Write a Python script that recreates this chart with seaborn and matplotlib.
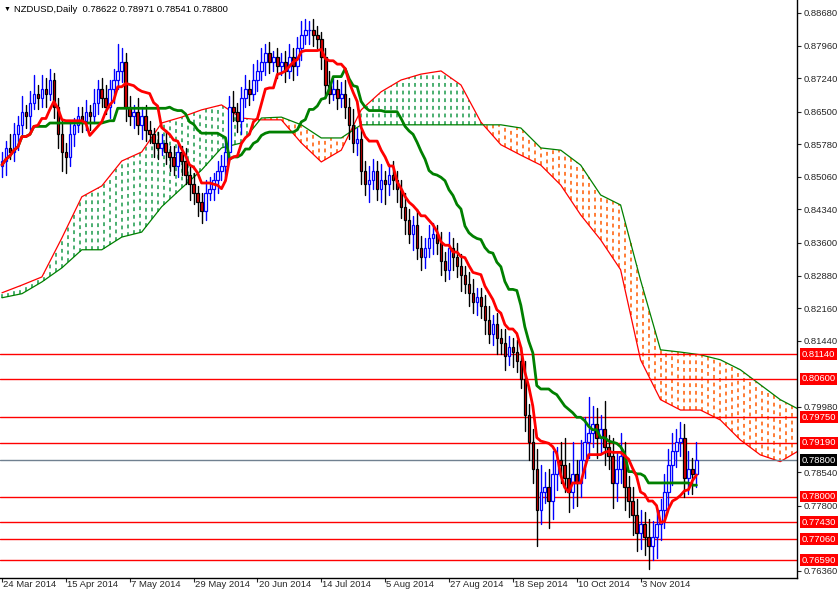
import numpy as np
import pandas as pd
import matplotlib
matplotlib.use("Agg")
import matplotlib.pyplot as plt
import matplotlib.transforms as mtransforms
import seaborn as sns

# ---------------- data ----------------
closes = [
0.8540,0.8570,0.8560,0.8600,0.8620,0.8650,0.8640,0.8670,0.8690,0.8680,
0.8700,0.8690,0.8720,0.8660,0.8600,0.8560,0.8550,0.8600,0.8620,0.8640,
0.8630,0.8650,0.8640,0.8670,0.8700,0.8680,0.8660,0.8700,0.8720,0.8740,
0.8760,0.8660,0.8640,0.8650,0.8620,0.8640,0.8610,0.8600,0.8580,0.8570,
0.8580,0.8560,0.8550,0.8530,0.8560,0.8540,0.8510,0.8490,0.8470,0.8450,
0.8430,0.8470,0.8480,0.8500,0.8520,0.8530,0.8560,0.8660,0.8650,0.8630,
0.8680,0.8700,0.8690,0.8720,0.8740,0.8760,0.8780,0.8760,0.8770,0.8750,
0.8760,0.8740,0.8770,0.8750,0.8790,0.8820,0.8830,0.8830,0.8820,0.8810,
0.8770,0.8710,0.8690,0.8700,0.8680,0.8690,0.8660,0.8620,0.8580,0.8590,
0.8520,0.8490,0.8500,0.8520,0.8480,0.8500,0.8490,0.8510,0.8500,0.8480,
0.8440,0.8410,0.8380,0.8400,0.8350,0.8330,0.8350,0.8370,0.8380,0.8360,
0.8320,0.8300,0.8350,0.8330,0.8310,0.8290,0.8270,0.8250,0.8230,0.8240,
0.8220,0.8190,0.8160,0.8180,0.8150,0.8140,0.8110,0.8130,0.8120,0.8100,
0.8060,0.7980,0.7920,0.7860,0.7770,0.7810,0.7820,0.7790,0.7850,0.7880,
0.7870,0.7840,0.7810,0.7850,0.7830,0.7880,0.7920,0.7940,0.7960,0.7930,
0.7950,0.7910,0.7890,0.7830,0.7860,0.7890,0.7820,0.7790,0.7760,0.7720,
0.7740,0.7710,0.7690,0.7710,0.7740,0.7770,0.7810,0.7870,0.7900,0.7920,
0.7930,0.7840,0.7860,0.7850,0.7880]
first_open = 0.8530
upper_pips = [
20,15,30,25,20,35,15,25,40,20, 30,25,25,15,20,30,20,25,15,20,
20,25,15,30,20,25,30,20,25,60, 30,20,25,15,30,20,25,20,15,25,
20,30,15,25,20,15,30,20,25,15, 20,30,25,15,20,25,30,25,35,20,
25,30,20,35,25,30,20,25,15,20, 20,25,30,20,25,30,25,20,25,20,
15,20,30,25,20,25,30,20,35,25, 25,20,30,25,20,35,20,25,30,20,
20,30,25,20,35,25,20,30,25,20, 25,20,35,20,30,25,20,25,30,20,
20,25,30,20,25,20,30,25,20,25, 30,40,25,30,45,60,35,40,50,30,
40,60,35,70,30,45,55,80,40,35, 30,60,25,40,35,50,30,25,30,35,
30,25,40,35,30,25,40,35,40,30, 35,30,40,25,40]
lower_pips = [
25,30,15,20,35,20,25,30,15,25, 20,30,15,25,30,40,35,20,25,15,
25,20,30,15,25,20,15,25,30,20, 25,30,20,25,20,30,25,20,30,25,
15,25,30,20,25,30,20,35,25,30, 25,20,15,25,30,20,25,15,20,25,
30,20,25,15,25,20,30,25,20,25, 20,25,15,30,20,25,20,30,25,20,
25,30,20,15,25,20,25,30,20,25, 30,25,40,20,25,30,45,25,20,30,
25,30,20,35,25,30,25,20,35,25, 30,25,20,30,25,35,20,30,25,30,
25,30,20,25,35,25,30,20,35,25, 20,35,40,30,80,30,25,60,40,35,
40,30,45,35,50,30,40,35,30,45, 35,40,30,55,40,30,50,35,45,40,
35,40,50,30,45,35,40,30,45,35, 30,40,35,45,30]

cloud_bars = list(range(0, 201, 5))
span_a = [0.8250,0.8267,0.8285,0.8371,0.8462,0.8486,0.8541,0.8561,0.8625,0.8638,
          0.8654,0.8665,0.8636,0.8632,0.8632,0.8581,0.8539,0.8565,0.8654,0.8694,
          0.8720,0.8733,0.8740,0.8709,0.8627,0.8577,0.8554,0.8532,0.8488,0.8422,
          0.8367,0.8301,0.8102,0.8014,0.7991,0.7991,0.7969,0.7925,0.7892,0.7877,0.7903]
span_b = [0.8239,0.8248,0.8274,0.8305,0.8345,0.8345,0.8373,0.8384,0.8440,0.8481,
          0.8521,0.8570,0.8581,0.8636,0.8638,0.8621,0.8592,0.8592,0.8621,0.8621,
          0.8621,0.8621,0.8621,0.8621,0.8621,0.8621,0.8614,0.8570,0.8565,0.8532,
          0.8466,0.8444,0.8278,0.8124,0.8119,0.8113,0.8102,0.8080,0.8047,0.8014,0.7991]

levels_red = [0.8114, 0.8060, 0.7975, 0.7919, 0.7800, 0.7743, 0.7706, 0.7659]
level_last = 0.7880
ytick_vals = [0.8868,0.8796,0.8724,0.8650,0.8578,0.8506,0.8434,0.8360,0.8288,
              0.8216,0.8144,0.7998,0.7854,0.7780,0.7636]
date_labels = ["24 Mar 2014","15 Apr 2014","7 May 2014","29 May 2014","20 Jun 2014",
               "14 Jul 2014","5 Aug 2014","27 Aug 2014","18 Sep 2014","10 Oct 2014","3 Nov 2014"]
date_bars = [0,16,32,48,64,80,96,112,128,144,160]
title = "NZDUSD,Daily  0.78622 0.78971 0.78541 0.78800"

# ---------------- frame ----------------
c = np.array(closes)
o = np.concatenate([[first_open], c[:-1]])
hi = np.maximum(o, c) + np.array(upper_pips) * 1e-4
lo = np.minimum(o, c) - np.array(lower_pips) * 1e-4
n = len(c)
bars = np.arange(n)
df = pd.DataFrame({"bar": bars, "open": o, "close": c, "high": hi, "low": lo})
df["tenkan"] = (df.high.rolling(9, min_periods=1).max() + df.low.rolling(9, min_periods=1).min()) / 2
df["kijun"] = (df.high.rolling(26, min_periods=1).max() + df.low.rolling(26, min_periods=1).min()) / 2

sns.set_style("white")
plt.rcParams["font.family"] = ["Liberation Sans", "DejaVu Sans"]
FS = 6.8
fig = plt.figure(figsize=(8.39, 5.92), dpi=100)
ax = fig.add_axes([0, 14/592, 797/839, 1 - 14/592])

# cloud
cb = np.array(cloud_bars, float)
sa = np.array(span_a); sb = np.array(span_b)
xs = np.arange(0, 200, 1.5)
ya = np.interp(xs, cb, sa); yb = np.interp(xs, cb, sb)
for x, a, b in zip(xs, ya, yb):
    col = "#1a9a4a" if a >= b else "#ff5a00"
    ax.plot([x, x], [min(a, b), max(a, b)], color=col, lw=1.1, ls=(0, (2.5, 2.5)))
ax.plot(cb, sa, color="red", lw=0.9)
ax.plot(cb, sb, color="green", lw=0.9)

# levels
for lv in levels_red:
    ax.axhline(lv, color="red", lw=1)
ax.axhline(level_last, color="#708090", lw=1)

# candles
w = 0.32
for _, r in df.iterrows():
    bull = r.close >= r.open
    ec = "blue" if bull else "black"
    fc = "white" if bull else "#e00000"
    ax.plot([r.bar, r.bar], [r.low, r.high], color=ec, lw=1, zorder=3)
    bot = min(r.open, r.close); h = max(abs(r.close - r.open), 0.00008)
    ax.add_patch(plt.Rectangle((r.bar - w, bot), 2*w, h, facecolor=fc, edgecolor=ec, lw=0.9, zorder=4))

sns.lineplot(data=df, x="bar", y="kijun", ax=ax, color="green", lw=2, zorder=5)
sns.lineplot(data=df, x="bar", y="tenkan", ax=ax, color="red", lw=2, zorder=6)

ax.set_xlim(-0.5, 199.2)
ax.set_ylim(0.7620, 0.88967)
ax.set_xlabel(""); ax.set_ylabel("")
for s in ["top", "left"]:
    ax.spines[s].set_visible(False)
for s in ["right", "bottom"]:
    ax.spines[s].set_color("black"); ax.spines[s].set_linewidth(1)
ax.yaxis.tick_right()
ax.set_yticks(ytick_vals)
ax.set_yticklabels([f"{v:.5f}" for v in ytick_vals], fontsize=FS)
ax.tick_params(axis="y", length=3, pad=2, right=True)
ax.set_xticks(date_bars)
ax.set_xticklabels([])
ax.tick_params(axis="x", length=3, bottom=True)
for b, lab in zip(date_bars, date_labels):
    ax.text(b + 0.3, -0.004, lab, transform=mtransforms.blended_transform_factory(ax.transData, ax.transAxes),
            fontsize=FS, ha="left", va="top")

trans = mtransforms.blended_transform_factory(ax.transAxes, ax.transData)
for lv in levels_red:
    ax.text(1.006, lv, f"{lv:.5f}", transform=trans, fontsize=FS, color="white", va="center", ha="left",
            bbox=dict(boxstyle="square,pad=0.15", fc="red", ec="none"), zorder=10)
ax.text(1.006, level_last, f"{level_last:.5f}", transform=trans, fontsize=FS, color="white", va="center",
        ha="left", bbox=dict(boxstyle="square,pad=0.15", fc="black", ec="none"), zorder=10)

fig.text(4/839, 1 - 9/592, "\u25BC", fontsize=5, va="center", color="black")
fig.text(14/839, 1 - 9/592, title, fontsize=FS, va="center", color="black")

fig.savefig("out.png", dpi=100)
